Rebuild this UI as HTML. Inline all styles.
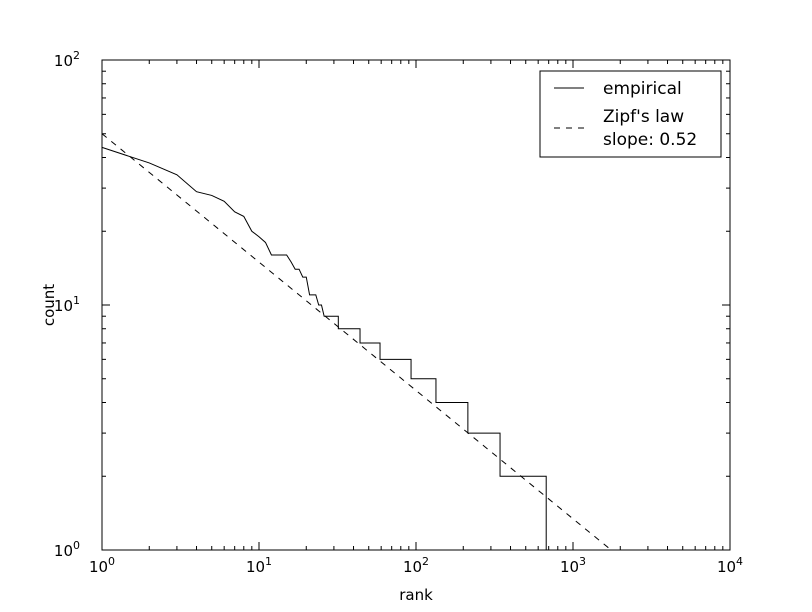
<!DOCTYPE html>
<html><head><meta charset="utf-8"><style>
body{margin:0;background:#fff;}
svg{display:block;font-family:"DejaVu Sans","Liberation Sans",sans-serif;}
</style></head><body>
<svg id="chart" width="812" height="612" viewBox="0 0 812 612" xmlns="http://www.w3.org/2000/svg">
<rect x="0" y="0" width="812" height="612" fill="#fff"/>
<g id="marks"></g>
<g id="axes"></g>
<rect x="102" y="60" width="628" height="490" fill="none" stroke="#000" stroke-width="1"/>
<text x="416" y="600" font-size="15" text-anchor="middle">rank</text>
<text x="54" y="305" font-size="15" text-anchor="middle" transform="rotate(-90 54 305)">count</text>
<g>
<rect x="540" y="71" width="181" height="86" fill="#fff" stroke="#000" stroke-width="1"/>
<line x1="554" y1="88" x2="584" y2="88" stroke="#000"/>
<text x="603" y="94" font-size="17">empirical</text>
<line x1="554" y1="128" x2="584" y2="128" stroke="#000" stroke-dasharray="6,6"/>
<text x="603" y="122" font-size="17">Zipf's law</text>
<text x="603" y="145" font-size="17">slope: 0.52</text>
</g>
</svg>
<script>
const empRanks = [1,2,3,4,5,6,7,8,9,10,11,12,15,16,17,18,19,20,21,23,24,25,26,28,32,32,44,44,59,59,93,93,134,134,214,214,343,343,675,675,1720];
const empCounts = [44,38,34,29,28,26.5,24,23,20,19,18,16,16,15,14,14,13,13,11,11,10,10,9,9,9,8,8,7,7,6,6,5,5,4,4,3,3,2,2,1,1];
const zipfRanks = [1,1750];
const zipfCounts = [50,1];
const xTickLabels = ["0","1","2","3","4"];
const yTickLabels = ["0","1","2"];
const NS="http://www.w3.org/2000/svg";
const X0=102,X1=730,Y0=550,Y1=60;
function sx(v){return X0+(X1-X0)*Math.log10(v)/4;}
function sy(v){return Y0-(Y0-Y1)*Math.log10(v)/2;}
const marks=document.getElementById('marks'),axes=document.getElementById('axes');
function mk(tag,attrs,parent){const e=document.createElementNS(NS,tag);for(const k in attrs)e.setAttribute(k,attrs[k]);parent.appendChild(e);return e;}
let p=empRanks.map((r,i)=>sx(r)+','+sy(empCounts[i])).join(' ');
const emp=mk('polyline',{points:p,fill:'none',stroke:'#000','stroke-width':1},marks);


p=zipfRanks.map((r,i)=>sx(r)+','+sy(zipfCounts[i])).join(' ');
const z=mk('polyline',{points:p,fill:'none',stroke:'#000','stroke-width':1,'stroke-dasharray':'6,6'},marks);


for(let d=0;d<=4;d++){
  for(let m=1;m<=9;m++){
    if(d==4&&m>1)break;
    const x=sx(m*Math.pow(10,d));const L=m==1?8:4;
    const t1=mk('line',{x1:x,y1:Y0,x2:x,y2:Y0-L,stroke:'#000'},axes);
    
    
    const t2=mk('line',{x1:x,y1:Y1,x2:x,y2:Y1+L,stroke:'#000'},axes);
    
    
  }
  const x=sx(Math.pow(10,d));
  const tx=mk('text',{x:x,y:572,'font-size':15,'text-anchor':'middle'},axes);
  
  
  tx.textContent='10';
  const sup=mk('tspan',{dy:-7,'font-size':11},tx);sup.textContent=xTickLabels[d];
}
for(let d=0;d<=2;d++){
  for(let m=1;m<=9;m++){
    if(d==2&&m>1)break;
    const y=sy(m*Math.pow(10,d));const L=m==1?8:4;
    const t1=mk('line',{x1:X0,y1:y,x2:X0+L,y2:y,stroke:'#000'},axes);
    
    
    const t2=mk('line',{x1:X1,y1:y,x2:X1-L,y2:y,stroke:'#000'},axes);
    
    
  }
  const y=sy(Math.pow(10,d));
  const ty=mk('text',{x:80,y:y+6,'font-size':15,'text-anchor':'end'},axes);
  
  
  ty.textContent='10';
  const sup=mk('tspan',{dy:-7,'font-size':11},ty);sup.textContent=yTickLabels[d];
}
</script>
</body></html>
